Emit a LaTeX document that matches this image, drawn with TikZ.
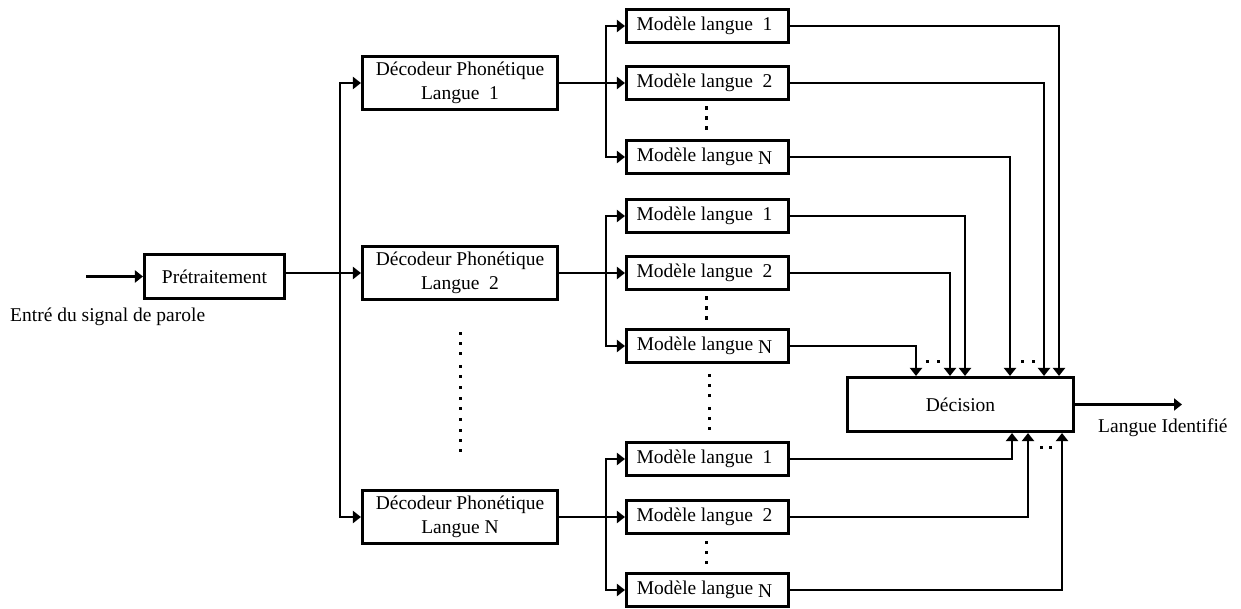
\documentclass[tikz,border=0pt]{standalone}
\usepackage{fontspec}
\setmainfont{Liberation Serif}
\usetikzlibrary{arrows.meta}
\begin{document}
\begin{tikzpicture}[x=1pt,y=-1pt,
  font=\fontsize{19.5}{24}\selectfont,
  box/.style={draw, line width=2.7pt, inner sep=0pt},
  modbox/.style={box, minimum width=162.4pt, minimum height=33pt},
  decbox/.style={box, minimum width=195.4pt, minimum height=53.4pt, align=center},
  link/.style={line width=2.7pt},
  arr/.style={link, -{Triangle[length=8pt,width=12pt]}},
  dotmark/.style={fill=black}
]
\useasboundingbox (0,0) rectangle (1241,609);

% preprocessing
\node[box, minimum width=140.4pt, minimum height=44.4pt] (pre) at (214.5,276.5) {Prétraitement};
\coordinate (in) at (86,276.5);
\node[anchor=west, inner sep=0pt] (inlabel) at (10,317) {Entré du signal de parole};
\draw[arr] (in) -- (pre.west);

% phonetic decoders
\node[decbox] (dec1) at (460,83) {Décodeur Phonétique\\Langue~~1};
\node[decbox] (dec2) at (460,273) {Décodeur Phonétique\\Langue~~2};
\node[decbox] (decN) at (460,517) {Décodeur Phonétique\\Langue N};

\coordinate (trunk) at (340,273);
\draw[arr] (pre.east |- dec2.west) -- (dec2.west);
\draw[arr] (trunk) |- (dec1.west);
\draw[arr] (trunk) |- (decN.west);

% language models, three groups
\newcommand{\lastN}{\raisebox{-3pt}{N}}
\newcommand{\mtext}[1]{Modèle langue #1\hspace*{6pt}}
\node[modbox] (g1a) at (707.5,26) {\mtext{\ 1}};
\node[modbox] (g1b) at (707.5,83) {\mtext{\ 2}};
\node[modbox] (g1n) at (707.5,157) {\mtext{\lastN}};
\node[modbox] (g2a) at (707.5,216) {\mtext{\ 1}};
\node[modbox] (g2b) at (707.5,273) {\mtext{\ 2}};
\node[modbox] (g2n) at (707.5,346) {\mtext{\lastN}};
\node[modbox] (g3a) at (707.5,459) {\mtext{\ 1}};
\node[modbox] (g3b) at (707.5,517) {\mtext{\ 2}};
\node[modbox] (g3n) at (707.5,590) {\mtext{\lastN}};

\coordinate (b1) at (606,83);
\coordinate (b2) at (606,273);
\coordinate (b3) at (606,517);
\foreach \d/\b/\g in {dec1/b1/g1, dec2/b2/g2, decN/b3/g3}{
  \draw[link] (\d.east) -- (\b);
  \draw[arr] (\b) -- (\g b.west);
  \draw[arr] (\b) |- (\g a.west);
  \draw[arr] (\b) |- (\g n.west);
}

% decision
\node[box, minimum width=226.4pt, minimum height=54.4pt] (dec) at (960.5,404.5) {Décision};
\coordinate (out) at (1182,404.5);
\node[anchor=west, inner sep=0pt] (outlabel) at (1098,428) {Langue Identifié};
\draw[arr] (dec.east) -- (out);

\draw[arr] (g1a.east) -| ([xshift=98.5pt]dec.north);
\draw[arr] (g1b.east) -| ([xshift=83.5pt]dec.north);
\draw[arr] (g1n.east) -| ([xshift=49.5pt]dec.north);
\draw[arr] (g2a.east) -| ([xshift=4.5pt]dec.north);
\draw[arr] (g2b.east) -| ([xshift=-10.5pt]dec.north);
\draw[arr] (g2n.east) -| ([xshift=-44.5pt]dec.north);
\draw[arr] (g3a.east) -| ([xshift=51.5pt]dec.south);
\draw[arr] (g3b.east) -| ([xshift=67.5pt]dec.south);
\draw[arr] (g3n.east) -| ([xshift=101.5pt]dec.south);

% ellipsis dots
\foreach \y in {333,343,353,366,376,387,398,408,419,430,440,450}
  \fill[dotmark] (458.5,\y-1.5) rectangle ++(3.2,3.2);
\foreach \y in {375,385,395,408,418,428}
  \fill[dotmark] (707.5,\y-1.5) rectangle ++(3.2,3.2);
\foreach \y in {108,118,128, 298,308,318, 542,552,562}
  \fill[dotmark] (705,\y-1.5) rectangle ++(3.2,3.2);
\foreach \x/\y in {927/361,938/361,1022/361,1033/361,1041/447,1050/447}
  \fill[dotmark] (\x-1.5,\y-1.5) rectangle ++(3.2,3.2);
\end{tikzpicture}
\end{document}
